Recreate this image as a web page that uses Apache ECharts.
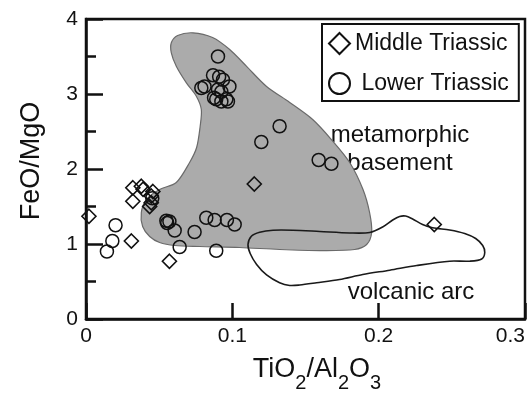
<!DOCTYPE html>
<html>
<head>
<meta charset="utf-8">
<script src="https://cdn.jsdelivr.net/npm/echarts@6/dist/echarts.min.js"></script>
<style>
html,body{margin:0;padding:0;background:#fff;}
#chart{width:531px;height:393px;}
</style>
</head>
<body>
<div id="chart"></div>
<script>
// Axis ticks
var xTicks = [0, 0.1, 0.2, 0.3];
var yTicks = [0, 1, 2, 3, 4];

// Middle Triassic (diamonds)
var middleX = [0.002, 0.031, 0.032, 0.0378, 0.039, 0.0457, 0.032, 0.0446, 0.0446, 0.0435, 0.057, 0.115, 0.238];
var middleY = [1.37, 1.04, 1.75, 1.77, 1.73, 1.70, 1.57, 1.64, 1.55, 1.50, 0.77, 1.80, 1.26];

// Lower Triassic (circles)
var lowerX = [0.0202, 0.018, 0.0143, 0.0453, 0.0549, 0.057, 0.0555, 0.0606, 0.0742, 0.064, 0.0822, 0.0879, 0.0963, 0.1016, 0.089,
              0.1198, 0.1323, 0.159, 0.1677,
              0.0902, 0.0868, 0.091, 0.0936, 0.0788, 0.081, 0.098, 0.0902, 0.089, 0.0925, 0.0959, 0.097, 0.0875, 0.0925];
var lowerY = [1.25, 1.04, 0.90, 1.61, 1.31, 1.30, 1.28, 1.18, 1.16, 0.96, 1.35, 1.32, 1.32, 1.26, 0.91,
              2.36, 2.57, 2.12, 2.07,
              3.50, 3.25, 3.23, 3.19, 3.08, 3.10, 3.10, 3.06, 2.93, 2.90, 2.93, 2.90, 2.95, 3.03];

// Metamorphic basement field outline
var basementX = [0.0583, 0.0626, 0.0731, 0.0865, 0.0982, 0.1096, 0.1232, 0.1392, 0.1549, 0.1677, 0.1802, 0.1893, 0.1938, 0.1952, 0.1918, 0.1836,
                 0.1597, 0.1323, 0.105, 0.0776, 0.0606, 0.0503, 0.0435, 0.0387, 0.0378, 0.0412, 0.0503, 0.0617, 0.0708, 0.0756, 0.078, 0.0788, 0.0754, 0.0686, 0.0617, 0.0583];
var basementY = [3.683, 3.78, 3.816, 3.753, 3.593, 3.371, 3.104, 2.887, 2.66, 2.393, 2.087, 1.727, 1.42, 1.153, 0.993, 0.927,
                 0.913, 0.927, 0.953, 0.967, 0.98, 1.02, 1.10, 1.233, 1.42, 1.593, 1.727, 1.82, 2.087, 2.287, 2.567, 2.793, 2.97, 3.149, 3.371, 3.549];

// Volcanic arc field outline
var arcX = [0.1107, 0.113, 0.1187, 0.1278, 0.1414, 0.1597, 0.1802, 0.1939, 0.2027, 0.2096, 0.2143, 0.2184, 0.2232, 0.23, 0.2369, 0.2485, 0.2588, 0.2663, 0.2711, 0.2725, 0.2704,
            0.2622, 0.2485, 0.226, 0.2076, 0.1891, 0.1733, 0.1576, 0.146, 0.1392, 0.1323, 0.1234, 0.1166, 0.1122];
var arcY = [0.993, 1.104, 1.157, 1.184, 1.184, 1.167, 1.147, 1.153, 1.227, 1.32, 1.367, 1.373, 1.333, 1.26, 1.216, 1.187, 1.14, 1.073, 0.98, 0.887, 0.80,
            0.771, 0.771, 0.713, 0.651, 0.593, 0.527, 0.483, 0.453, 0.447, 0.483, 0.587, 0.727, 0.873];

var FONT = '"Liberation Sans", Arial, sans-serif';
var INK = '#111';

function pairs(xs, ys) { return xs.map(function (x, i) { return [x, ys[i]]; }); }

function polygonSeries(name, xs, ys, style, z) {
  return {
    type: 'custom',
    name: name,
    coordinateSystem: 'cartesian2d',
    silent: true,
    z: z,
    data: [[xs[0], ys[0]]],
    renderItem: function (params, api) {
      var pts = xs.map(function (x, i) { return api.coord([x, ys[i]]); });
      return { type: 'polygon', shape: { points: pts, smooth: 0.3 }, style: style };
    }
  };
}

var chart = echarts.init(document.getElementById('chart'), null, { renderer: 'canvas' });
chart.setOption({
  animation: false,
  backgroundColor: '#fff',
  grid: { left: 86, right: 6, top: 19, bottom: 74, show: true, borderColor: INK, borderWidth: 2.5, backgroundColor: 'transparent' },
  xAxis: {
    type: 'value', min: xTicks[0], max: xTicks[xTicks.length - 1], interval: 0.1,
    axisLine: { show: true, lineStyle: { color: INK, width: 2.5 } },
    axisTick: { show: true, inside: true, length: 16, lineStyle: { color: INK, width: 2.5 } },
    splitLine: { show: false },
    axisLabel: { color: INK, fontFamily: FONT, fontSize: 21, margin: 7, alignMaxLabel: 'right',
      formatter: function (v) { return String(+v.toFixed(1)); } }
  },
  yAxis: {
    type: 'value', min: yTicks[0], max: yTicks[yTicks.length - 1], interval: 1,
    axisLine: { show: true, lineStyle: { color: INK, width: 2.5 } },
    axisTick: { show: true, inside: true, length: 17, lineStyle: { color: INK, width: 2.5 } },
    minorTick: { show: true, splitNumber: 2, length: 10, lineStyle: { color: INK, width: 2.5 } },
    splitLine: { show: false },
    minorSplitLine: { show: false },
    axisLabel: { color: INK, fontFamily: FONT, fontSize: 21, margin: 8 }
  },
  legend: {
    orient: 'vertical', left: 322, top: 24,
    padding: [8, 10, 6, 6],
    borderColor: INK, borderWidth: 2, backgroundColor: '#fff',
    itemWidth: 21, itemHeight: 21, itemGap: 17,
    textStyle: { color: INK, fontFamily: FONT, fontSize: 23 },
    itemStyle: { borderWidth: 2 },
    formatter: function (n) { return n === 'Lower Triassic' ? ' ' + n : n; },
    data: ['Middle Triassic', 'Lower Triassic']
  },
  graphic: [
    { type: 'text', x: 400, y: 135, style: { text: 'metamorphic', font: '24px ' + FONT, fill: INK, align: 'center', verticalAlign: 'middle' } },
    { type: 'text', x: 400, y: 163, style: { text: 'basement', font: '24px ' + FONT, fill: INK, align: 'center', verticalAlign: 'middle' } },
    { type: 'text', x: 411, y: 292, style: { text: 'volcanic arc', font: '24px ' + FONT, fill: INK, align: 'center', verticalAlign: 'middle' } },
    { type: 'text', x: 32, y: 161, rotation: Math.PI / 2, style: { text: 'FeO/MgO', font: '27px ' + FONT, fill: INK, align: 'center', verticalAlign: 'middle' } },
    { type: 'text', x: 317, y: 356, style: {
        text: '{a|TiO}{s|2}{a|/Al}{s|2}{a|O}{s|3}', align: 'center', verticalAlign: 'top', fill: INK,
        rich: {
          a: { fontFamily: FONT, fontSize: 27, lineHeight: 27, color: INK },
          s: { fontFamily: FONT, fontSize: 20, lineHeight: 20, padding: [28, 0, 0, 0], color: INK }
        } } }
  ],
  series: [
    polygonSeries('basement', basementX, basementY, { fill: '#ababab', stroke: '#6a6a6a', lineWidth: 1.2 }, 1),
    polygonSeries('arc', arcX, arcY, { fill: 'none', stroke: '#1a1a1a', lineWidth: 1.6 }, 2),
    {
      type: 'scatter', name: 'Lower Triassic', symbol: 'circle', symbolSize: 13, z: 4,
      itemStyle: { color: 'transparent', borderColor: INK, borderWidth: 1.5, opacity: 1 },
      data: pairs(lowerX, lowerY)
    },
    {
      type: 'scatter', name: 'Middle Triassic', symbol: 'diamond', symbolSize: 14, z: 5,
      itemStyle: { color: 'transparent', borderColor: INK, borderWidth: 1.6, opacity: 1 },
      data: pairs(middleX, middleY)
    }
  ]
});
</script>
</body>
</html>
